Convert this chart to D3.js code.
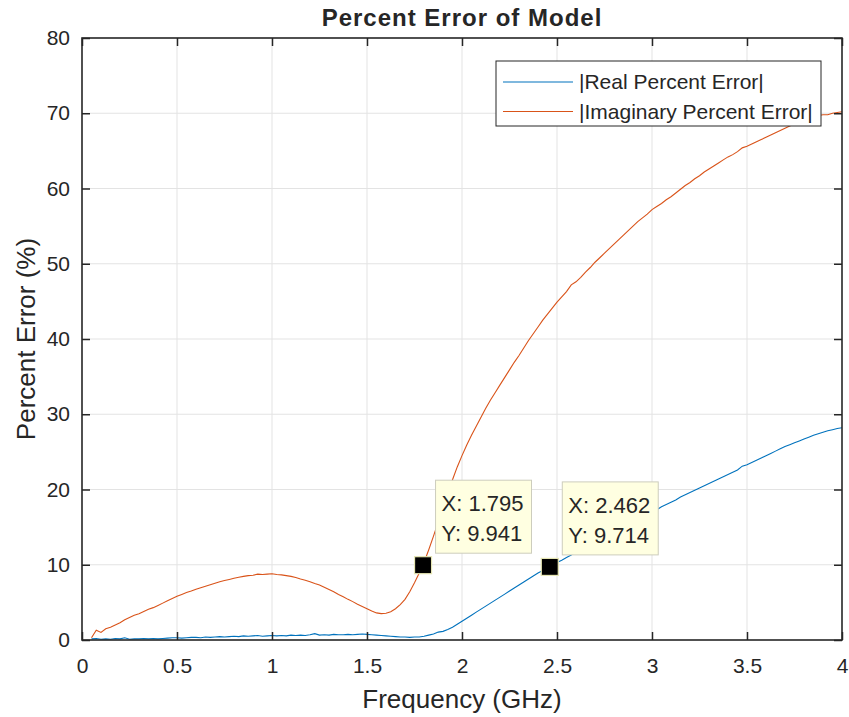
<!DOCTYPE html>
<html>
<head>
<meta charset="utf-8">
<script src="https://cdn.jsdelivr.net/npm/d3@7"></script>
<style>
  html, body { margin: 0; padding: 0; background: #ffffff; }
  svg { display: block; }
  text { font-family: "Liberation Sans", Arial, Helvetica, sans-serif; fill: #262626; }
</style>
</head>
<body>
<svg id="chart" width="849" height="717"></svg>
<script>
// Frequency sample points (GHz)
const freq = [
  0.05, 0.075, 0.1, 0.125, 0.15, 0.175, 0.2, 0.225, 0.25, 0.275,
  0.3, 0.325, 0.35, 0.375, 0.4, 0.425, 0.45, 0.475, 0.5, 0.525,
  0.55, 0.575, 0.6, 0.625, 0.65, 0.675, 0.7, 0.725, 0.75, 0.775,
  0.8, 0.825, 0.85, 0.875, 0.9, 0.925, 0.95, 0.975, 1.0, 1.025,
  1.05, 1.075, 1.1, 1.125, 1.15, 1.175, 1.2, 1.225, 1.25, 1.275,
  1.3, 1.325, 1.35, 1.375, 1.4, 1.425, 1.45, 1.475, 1.5, 1.525,
  1.55, 1.575, 1.6, 1.625, 1.65, 1.675, 1.7, 1.725, 1.75, 1.775,
  1.8, 1.825, 1.85, 1.875, 1.9, 1.925, 1.95, 1.975, 2.0, 2.025,
  2.05, 2.075, 2.1, 2.125, 2.15, 2.175, 2.2, 2.225, 2.25, 2.275,
  2.3, 2.325, 2.35, 2.375, 2.4, 2.425, 2.45, 2.475, 2.5, 2.525,
  2.55, 2.575, 2.6, 2.625, 2.65, 2.675, 2.7, 2.725, 2.75, 2.775,
  2.8, 2.825, 2.85, 2.875, 2.9, 2.925, 2.95, 2.975, 3.0, 3.025,
  3.05, 3.075, 3.1, 3.125, 3.15, 3.175, 3.2, 3.225, 3.25, 3.275,
  3.3, 3.325, 3.35, 3.375, 3.4, 3.425, 3.45, 3.475, 3.5, 3.525,
  3.55, 3.575, 3.6, 3.625, 3.65, 3.675, 3.7, 3.725, 3.75, 3.775,
  3.8, 3.825, 3.85, 3.875, 3.9, 3.925, 3.95, 3.975, 4.0
];

// |Real Percent Error| (%)
const realErr = [
  0.15, 0.2, 0.1, 0.15, 0.1, 0.2, 0.15, 0.3, 0.1, 0.15,
  0.15, 0.2, 0.15, 0.2, 0.15, 0.2, 0.25, 0.3, 0.3, 0.25,
  0.3, 0.35, 0.35, 0.3, 0.4, 0.35, 0.4, 0.45, 0.4, 0.45,
  0.5, 0.45, 0.55, 0.5, 0.55, 0.6, 0.5, 0.55, 0.6, 0.55,
  0.6, 0.55, 0.65, 0.6, 0.65, 0.6, 0.7, 0.85, 0.65, 0.7,
  0.65, 0.75, 0.7, 0.7, 0.75, 0.7, 0.75, 0.8, 0.75, 0.7,
  0.65, 0.6, 0.55, 0.5, 0.45, 0.4, 0.4, 0.35, 0.4, 0.4,
  0.5, 0.65, 0.8, 1.05, 1.15, 1.4, 1.7, 2.1, 2.5, 2.9,
  3.3, 3.7, 4.1, 4.5, 4.9, 5.3, 5.7, 6.1, 6.5, 6.9,
  7.3, 7.7, 8.1, 8.5, 8.9, 9.25, 9.55, 9.9, 10.3, 10.6,
  10.95, 11.3, 11.7, 12.0, 12.4, 12.7, 13.0, 13.4, 13.7, 14.1,
  14.4, 14.8, 15.1, 15.4, 15.8, 16.1, 16.4, 16.7, 17.0, 17.3,
  17.7, 18.0, 18.3, 18.6, 19.0, 19.3, 19.6, 19.9, 20.2, 20.5,
  20.8, 21.1, 21.4, 21.7, 22.0, 22.3, 22.6, 23.1, 23.3, 23.6,
  23.9, 24.2, 24.5, 24.8, 25.1, 25.4, 25.7, 25.95, 26.2, 26.45,
  26.7, 26.95, 27.2, 27.4, 27.6, 27.8, 27.95, 28.1, 28.2
];

// |Imaginary Percent Error| (%)
const imagErr = [
  0.3, 1.3, 1.0, 1.5, 1.7, 2.0, 2.3, 2.7, 3.0, 3.3,
  3.5, 3.8, 4.1, 4.3, 4.6, 4.9, 5.2, 5.5, 5.8, 6.05,
  6.3, 6.5, 6.75, 6.95, 7.15, 7.35, 7.55, 7.75, 7.9, 8.05,
  8.2, 8.35, 8.45, 8.55, 8.6, 8.75, 8.7, 8.75, 8.8, 8.7,
  8.65, 8.55, 8.45, 8.3, 8.1, 7.95, 7.75, 7.5, 7.3, 7.0,
  6.7, 6.4, 6.05, 5.75, 5.4, 5.1, 4.75, 4.45, 4.15, 3.85,
  3.6, 3.5, 3.55, 3.75, 4.15, 4.7, 5.4, 6.4, 7.6, 8.9,
  10.3, 12.0, 13.8, 15.7, 17.6, 19.5, 21.3, 23.0, 24.5, 25.9,
  27.2, 28.4, 29.6, 30.8, 31.9, 32.9, 33.9, 34.9, 35.9, 36.9,
  37.8, 38.8, 39.8, 40.7, 41.6, 42.5, 43.3, 44.1, 44.9, 45.6,
  46.3, 47.2, 47.6, 48.2, 48.9, 49.5, 50.2, 50.8, 51.4, 52.0,
  52.6, 53.2, 53.8, 54.4, 55.0, 55.6, 56.1, 56.6, 57.2, 57.6,
  58.0, 58.5, 58.9, 59.4, 59.9, 60.4, 60.8, 61.3, 61.7, 62.2,
  62.6, 63.0, 63.4, 63.8, 64.2, 64.5, 64.9, 65.4, 65.6, 65.9,
  66.2, 66.5, 66.8, 67.1, 67.4, 67.7, 68.0, 68.3, 68.6, 68.9,
  69.2, 69.4, 69.6, 69.7, 69.8, 69.8, 70.0, 70.1, 70.2
];

const seriesNames = ["|Real Percent Error|", "|Imaginary Percent Error|"];
const seriesColors = ["#0072BD", "#D95319"];

const xTicks = [0, 0.5, 1, 1.5, 2, 2.5, 3, 3.5, 4];
const yTicks = [0, 10, 20, 30, 40, 50, 60, 70, 80];

// Data tips: [frequency, value]
const tipX = [1.795, 2.462];
const tipY = [9.941, 9.714];

const svg = d3.select("#chart");
const W = 849, H = 717;
const m = { left: 82, right: 7, top: 38, bottom: 77 };
const pw = W - m.left - m.right, ph = H - m.top - m.bottom;

svg.append("rect").attr("width", W).attr("height", H).attr("fill", "#ffffff");

const x = d3.scaleLinear().domain([0, 4]).range([m.left, m.left + pw]);
const y = d3.scaleLinear().domain([0, 80]).range([m.top + ph, m.top]);

const g = svg.append("g");

// Grid
g.append("g").selectAll("line").data(xTicks.slice(1, -1)).join("line")
  .attr("x1", d => x(d)).attr("x2", d => x(d))
  .attr("y1", m.top).attr("y2", m.top + ph)
  .attr("stroke", "#e3e3e3").attr("stroke-width", 1);
g.append("g").selectAll("line").data(yTicks.slice(1, -1)).join("line")
  .attr("y1", d => y(d)).attr("y2", d => y(d))
  .attr("x1", m.left).attr("x2", m.left + pw)
  .attr("stroke", "#e3e3e3").attr("stroke-width", 1);

// Series lines
const seriesVals = [realErr, imagErr];
svg.append("clipPath").attr("id", "plotclip")
  .append("rect").attr("x", m.left).attr("y", m.top).attr("width", pw).attr("height", ph);
const line = d3.line().x(d => x(d[0])).y(d => y(d[1]));
seriesVals.forEach((vals, i) => {
  g.append("path")
    .datum(freq.map((f, k) => [f, vals[k]]))
    .attr("fill", "none")
    .attr("stroke", seriesColors[i])
    .attr("stroke-width", 1.1)
    .attr("clip-path", "url(#plotclip)")
    .attr("d", line);
});

// Axes with inward ticks on all four sides
const tickLen = 8;
const axisStyle = sel => {
  sel.select(".domain").remove();
  sel.selectAll(".tick line").attr("stroke", "#262626").attr("stroke-width", 1.5);
  sel.selectAll(".tick text").attr("fill", "#262626")
    .style("font-size", "21px").style("font-family", "'Liberation Sans', Arial, sans-serif");
};
const fmt = d => d3.format("~g")(d);
g.append("g").attr("transform", `translate(0,${m.top + ph})`)
  .call(d3.axisBottom(x).tickValues(xTicks).tickFormat(fmt).tickSizeInner(-tickLen).tickSizeOuter(0).tickPadding(18))
  .call(axisStyle);
g.append("g").attr("transform", `translate(0,${m.top})`)
  .call(d3.axisTop(x).tickValues(xTicks).tickFormat("").tickSizeInner(-tickLen).tickSizeOuter(0))
  .call(axisStyle);
g.append("g").attr("transform", `translate(${m.left},0)`)
  .call(d3.axisLeft(y).tickValues(yTicks).tickFormat(fmt).tickSizeInner(-tickLen).tickSizeOuter(0).tickPadding(12))
  .call(axisStyle);
g.append("g").attr("transform", `translate(${m.left + pw},0)`)
  .call(d3.axisRight(y).tickValues(yTicks).tickFormat("").tickSizeInner(-tickLen).tickSizeOuter(0))
  .call(axisStyle);

// Axes box
g.append("rect").attr("x", m.left).attr("y", m.top).attr("width", pw).attr("height", ph)
  .attr("fill", "none").attr("stroke", "#262626").attr("stroke-width", 1.6);

// Title and axis labels
svg.append("text").attr("x", m.left + pw / 2).attr("y", 26)
  .attr("text-anchor", "middle").style("font-size", "24px").style("font-weight", "bold")
  .style("letter-spacing", "1px").attr("fill", "#000000")
  .text("Percent Error of Model");
svg.append("text").attr("x", m.left + pw / 2).attr("y", 708)
  .attr("text-anchor", "middle").style("font-size", "26px")
  .text("Frequency (GHz)");
svg.append("text").attr("transform", `translate(35,${m.top + ph / 2}) rotate(-90)`)
  .attr("text-anchor", "middle").style("font-size", "26px")
  .text("Percent Error (%)");

// Legend
const leg = svg.append("g");
leg.append("rect").attr("x", 496).attr("y", 61).attr("width", 325).attr("height", 65)
  .attr("fill", "#ffffff").attr("stroke", "#262626").attr("stroke-width", 1);
seriesNames.forEach((name, i) => {
  const ly = 82 + i * 29.5;
  leg.append("line").attr("x1", 503).attr("x2", 573).attr("y1", ly).attr("y2", ly)
    .attr("stroke", seriesColors[i]).attr("stroke-width", 1.1);
  leg.append("text").attr("x", 579).attr("y", ly).attr("dy", "0.35em")
    .style("font-size", "21px").attr("fill", "#000000").text(name);
});

// Data tips
tipX.forEach((tx, i) => {
  const px = x(tx), py = y(tipY[i]);
  const tg = svg.append("g");
  const bx = px + 12.5, by = py - 85;
  const box = tg.append("rect").attr("x", bx).attr("y", by).attr("height", 73)
    .attr("fill", "#ffffe1").attr("stroke", "#cdcdbd").attr("stroke-width", 1);
  const t1 = tg.append("text").attr("x", bx + 6).attr("y", by + 31)
    .style("font-size", "22px").attr("fill", "#000000").text("X: " + tx);
  const t2 = tg.append("text").attr("x", bx + 6).attr("y", by + 61)
    .style("font-size", "22px").attr("fill", "#000000").text("Y: " + tipY[i]);
  const w = Math.max(t1.node().getComputedTextLength(), t2.node().getComputedTextLength()) + 14;
  box.attr("width", w);
  tg.append("rect").attr("x", px - 8.5).attr("y", py - 8.5).attr("width", 17).attr("height", 17)
    .attr("fill", "#000000").attr("stroke", "#e6e6b4").attr("stroke-width", 1.2);
});
</script>
</body>
</html>
